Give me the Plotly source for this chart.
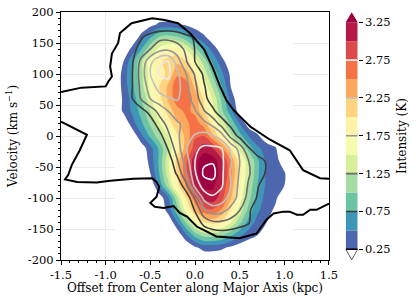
import plotly.graph_objects as go

# ---------------- data ----------------
offset_kpc = [-0.9, -0.8, -0.7, -0.6, -0.5, -0.4, -0.3, -0.2, -0.1, 0.0,
              0.1, 0.2, 0.3, 0.4, 0.5, 0.6, 0.7, 0.8, 0.9, 1.0, 1.1]
velocity_kms = [200, 180, 160, 140, 120, 100, 80, 60, 40, 20, 0,
                -20, -40, -60, -80, -100, -120, -140, -160, -180, -200]

# filled-contour intensity (K), rows follow velocity_kms, columns follow offset_kpc
intensity_fill = [
    [0, 0, 0, 0, 0, 0, 0, 0, 0, 0, 0, 0, 0, 0, 0, 0, 0, 0, 0, 0, 0],
    [0, 0, 0, 0, 0.15, 0.3, 0.33, 0.3, 0.2, 0.1, 0, 0, 0, 0, 0, 0, 0, 0, 0, 0, 0],
    [0, 0, 0, 0.35, 0.7, 1.0, 1.1, 1.0, 0.8, 0.5, 0.3, 0.05, 0, 0, 0, 0, 0, 0, 0, 0, 0],
    [0, 0, 0.35, 0.75, 1.2, 1.6, 1.8, 1.8, 1.5, 1.1, 0.7, 0.4, 0.1, 0, 0, 0, 0, 0, 0, 0, 0],
    [0, 0.25, 0.7, 1.2, 1.65, 1.95, 2.1, 2.2, 2.0, 1.6, 1.15, 0.7, 0.35, 0.05, 0, 0, 0, 0, 0, 0, 0],
    [0, 0.35, 0.75, 1.2, 1.6, 1.9, 2.05, 2.45, 2.4, 1.95, 1.4, 0.95, 0.55, 0.2, 0, 0, 0, 0, 0, 0, 0],
    [0, 0.35, 0.7, 1.15, 1.6, 2.0, 2.3, 2.7, 2.6, 2.2, 1.7, 1.2, 0.75, 0.25, 0, 0, 0, 0, 0, 0, 0],
    [0, 0.3, 0.6, 1.0, 1.45, 1.9, 2.3, 2.65, 2.7, 2.4, 1.95, 1.45, 0.95, 0.4, 0.05, 0, 0, 0, 0, 0, 0],
    [0, 0.3, 0.55, 0.85, 1.25, 1.7, 2.1, 2.4, 2.55, 2.45, 2.05, 1.55, 1.05, 0.6, 0.1, 0, 0, 0, 0, 0, 0],
    [0, 0, 0.4, 0.7, 1.05, 1.45, 1.85, 2.2, 2.45, 2.6, 2.4, 1.9, 1.4, 0.95, 0.5, 0.1, 0, 0, 0, 0, 0],
    [0, 0, 0.05, 0.45, 0.8, 1.15, 1.5, 1.95, 2.35, 2.7, 2.75, 2.3, 1.8, 1.3, 0.85, 0.5, 0.3, 0.05, 0, 0, 0],
    [0, 0, 0, 0.1, 0.4, 0.8, 1.3, 1.85, 2.4, 2.9, 3.15, 3.0, 2.6, 2.0, 1.4, 0.9, 0.55, 0.4, 0.28, 0, 0],
    [0, 0, 0, 0, 0.35, 0.8, 1.45, 2.1, 2.7, 3.15, 3.4, 3.4, 3.05, 2.5, 1.85, 1.3, 0.8, 0.45, 0.35, 0.1, 0],
    [0, 0, 0, 0, 0.25, 0.75, 1.4, 2.05, 2.7, 3.15, 3.45, 3.45, 3.1, 2.55, 1.9, 1.3, 0.8, 0.45, 0.35, 0.28, 0],
    [0, 0, 0, 0, 0, 0.55, 1.15, 1.85, 2.5, 3.05, 3.3, 3.3, 3.0, 2.45, 1.8, 1.2, 0.75, 0.45, 0.35, 0.25, 0],
    [0, 0, 0, 0, 0, 0.1, 0.45, 1.2, 2.0, 2.7, 3.1, 3.15, 2.85, 2.3, 1.65, 1.1, 0.65, 0.4, 0.3, 0.05, 0],
    [0, 0, 0, 0, 0, 0, 0.35, 0.9, 1.6, 2.25, 2.65, 2.7, 2.45, 1.95, 1.4, 0.9, 0.55, 0.35, 0.2, 0, 0],
    [0, 0, 0, 0, 0, 0, 0, 0.45, 1.0, 1.6, 1.95, 2.05, 1.9, 1.5, 1.05, 0.65, 0.4, 0.25, 0, 0, 0],
    [0, 0, 0, 0, 0, 0, 0, 0.05, 0.45, 0.85, 1.1, 1.1, 1.0, 0.8, 0.55, 0.38, 0.25, 0, 0, 0, 0],
    [0, 0, 0, 0, 0, 0, 0, 0, 0, 0.2, 0.35, 0.35, 0.3, 0.2, 0.1, 0, 0, 0, 0, 0, 0],
    [0, 0, 0, 0, 0, 0, 0, 0, 0, 0, 0, 0, 0, 0, 0, 0, 0, 0, 0, 0, 0],
]

# line-contour intensity (K), same grid
intensity_lines = [
    [0, 0, 0, 0, 0, 0, 0, 0, 0, 0, 0, 0, 0, 0, 0, 0, 0, 0, 0, 0, 0],
    [0, 0, 0, 0, 0.2, 0.3, 0.35, 0.35, 0.25, 0.05, 0, 0, 0, 0, 0, 0, 0, 0, 0, 0, 0],
    [0, 0, 0.3, 0.7, 0.95, 1.1, 1.1, 1.0, 0.85, 0.7, 0.4, 0.1, 0, 0, 0, 0, 0, 0, 0, 0, 0],
    [0, 0.2, 0.6, 0.95, 1.25, 1.55, 1.65, 1.5, 1.15, 0.73, 0.4, 0.15, 0, 0, 0, 0, 0, 0, 0, 0, 0],
    [0, 0.3, 0.7, 1.4, 2.1, 2.7, 2.78, 2.0, 1.3, 0.75, 0.35, 0.1, 0, 0, 0, 0, 0, 0, 0, 0, 0],
    [0, 0.3, 0.75, 1.5, 2.25, 2.8, 2.85, 2.35, 1.75, 1.2, 0.65, 0.3, 0, 0, 0, 0, 0, 0, 0, 0, 0],
    [0, 0.3, 0.75, 1.4, 2.0, 2.45, 2.6, 2.45, 1.9, 1.35, 0.8, 0.4, 0.1, 0, 0, 0, 0, 0, 0, 0, 0],
    [0, 0.25, 0.75, 1.3, 1.75, 2.05, 2.2, 2.3, 2.0, 1.5, 0.9, 0.5, 0.2, 0, 0, 0, 0, 0, 0, 0, 0],
    [0, 0, 0.2, 0.55, 0.95, 1.4, 1.75, 1.95, 2.0, 1.8, 1.3, 0.85, 0.45, 0.15, 0, 0, 0, 0, 0, 0, 0],
    [0, 0, 0, 0, 0.45, 1.0, 1.4, 1.7, 1.85, 1.95, 1.9, 1.6, 1.0, 0.6, 0.3, 0.1, 0, 0, 0, 0, 0],
    [0, 0, 0, 0, 0, 0.55, 1.15, 1.65, 2.05, 2.3, 2.4, 2.3, 1.95, 1.1, 0.6, 0.3, 0.1, 0, 0, 0, 0],
    [0, 0, 0, 0, 0, 0, 0.8, 1.5, 2.2, 2.65, 2.85, 2.85, 2.75, 2.15, 1.55, 0.8, 0.45, 0.15, 0, 0, 0],
    [0, 0, 0, 0, 0, 0, 0.4, 1.2, 2.0, 2.75, 3.15, 3.2, 2.85, 2.3, 1.75, 1.25, 0.95, 0.7, 0.3, 0, 0],
    [0, 0, 0, 0, 0, 0, 0.2, 0.85, 1.7, 2.7, 3.35, 3.4, 2.85, 2.2, 1.7, 1.3, 1.0, 0.7, 0.3, 0, 0],
    [0, 0, 0, 0, 0, 0, 0, 0.3, 1.1, 2.4, 3.0, 3.1, 2.8, 2.25, 1.6, 1.2, 0.8, 0.45, 0.15, 0, 0],
    [0, 0, 0, 0, 0, 0, 0, 0, 0.35, 1.3, 2.4, 2.65, 2.5, 2.05, 1.55, 1.1, 0.7, 0.35, 0, 0, 0],
    [0, 0, 0, 0, 0, 0, 0, 0, 0, 0.8, 1.6, 2.0, 1.9, 1.6, 1.25, 0.85, 0.4, 0, 0, 0, 0],
    [0, 0, 0, 0, 0, 0, 0, 0, 0, 0.3, 0.95, 1.15, 1.15, 1.05, 0.95, 0.8, 0.3, 0, 0, 0, 0],
    [0, 0, 0, 0, 0, 0, 0, 0, 0, 0, 0.2, 0.4, 0.5, 0.5, 0.4, 0.2, 0, 0, 0, 0, 0],
    [0, 0, 0, 0, 0, 0, 0, 0, 0, 0, 0, 0, 0, 0, 0, 0, 0, 0, 0, 0, 0],
    [0, 0, 0, 0, 0, 0, 0, 0, 0, 0, 0, 0, 0, 0, 0, 0, 0, 0, 0, 0, 0],
]

# lowest-level (0.25 K) contour of the wide-field map, two branches
black_upper_x = [-1.5, -1.27, -1.0, -0.97, -0.93, -0.95, -0.93, -0.86, -0.84, -0.71, -0.48,
                 -0.34, -0.19, -0.05, 0.1, 0.2, 0.28, 0.35, 0.43, 0.62, 0.84, 1.06, 1.21, 1.4, 1.5]
black_upper_y = [71, 78, 80, 88, 96, 112, 133, 150, 166, 182, 190,
                 187, 182, 165, 140, 110, 80, 58, 42, 15, -6, -23, -55, -68, -69]
black_lower_x = [-1.5, -1.21, -1.29, -1.38, -1.42, -1.455, -1.32, -1.1, -0.95, -0.69, -0.48,
                 -0.43, -0.4, -0.43, -0.5, -0.45, -0.35, -0.24, -0.17, -0.09, 0.02, 0.17,
                 0.24, 0.5, 0.69, 0.8, 0.88, 0.99, 1.06, 1.14, 1.21, 1.29, 1.36, 1.5]
black_lower_y = [23, 2, -23, -47, -63, -70, -74, -75, -72, -69, -68,
                 -74, -82, -98, -108, -114, -116, -113, -124, -130, -146, -157,
                 -162, -165, -157, -135, -125, -122, -122, -127, -127, -119, -119, -109]

fill_levels = [0.25, 0.5, 0.75, 1.0, 1.25, 1.5, 1.75, 2.0, 2.25, 2.5, 2.75, 3.0, 3.25]
line_levels = [0.75, 1.25, 1.75, 2.25, 2.75, 3.25]
cbar_ticks = [0.25, 0.75, 1.25, 1.75, 2.25, 2.75, 3.25]
x_ticks = [-1.5, -1.0, -0.5, 0.0, 0.5, 1.0, 1.5]
x_ticktext = ["-1.5", "-1.0", "-0.5", "0.0", "0.5", "1.0", "1.5"]
y_ticks = [-200, -150, -100, -50, 0, 50, 100, 150, 200]
y_ticktext = ["-200", "-150", "-100", "-50", "0", "50", "100", "150", "200"]

# ---------------- style ----------------
band_colors = ["#4c67ad", "#3f97b7", "#6cc4a5", "#a5dba4", "#d7ef9b", "#f5fbaf",
               "#fff2a9", "#fed481", "#fca95e", "#f57246", "#dd4a4c", "#b51a47"]
under_color = "#ffffff"
over_color = "#9e0142"
line_colors = ["#3c3c3c", "#6a6a6a", "#959595", "#c0c0c0", "#eaeaea", "#ffffff"]

n_pos = len(band_colors) + 1
fill_scale = [[0.0, under_color]]
for k, c in enumerate(band_colors):
    fill_scale.append([(k + 1) / n_pos, c])
fill_scale.append([1.0, over_color])

line_scale = [[i / (len(line_colors) - 1), c] for i, c in enumerate(line_colors)]

FONT = "DejaVu Serif"
step_fill = fill_levels[1] - fill_levels[0]
step_line = line_levels[1] - line_levels[0]

fig = go.Figure()

fig.add_trace(go.Contour(
    x=offset_kpc, y=velocity_kms, z=intensity_fill,
    autocontour=False,
    contours=dict(start=fill_levels[0], end=fill_levels[-1], size=step_fill, coloring="fill"),
    colorscale=fill_scale, showscale=False,
    line=dict(width=0, smoothing=0.9), hoverinfo="skip",
))

fig.add_trace(go.Contour(
    x=offset_kpc, y=velocity_kms, z=intensity_lines,
    autocontour=False,
    contours=dict(start=line_levels[0], end=line_levels[-1], size=step_line, coloring="lines"),
    colorscale=line_scale, showscale=False,
    line=dict(width=1.6, smoothing=0.9), hoverinfo="skip",
))

for bx, by in [(black_upper_x, black_upper_y), (black_lower_x, black_lower_y)]:
    fig.add_trace(go.Scatter(x=bx, y=by, mode="lines",
                             line=dict(color="black", width=2),
                             hoverinfo="skip", showlegend=False))

# ---------------- colour bar (drawn on its own small axes) ----------------
band_heights = [fill_levels[i + 1] - fill_levels[i] for i in range(len(fill_levels) - 1)]
fig.add_trace(go.Bar(
    x=[0] * len(band_heights), y=band_heights, base=fill_levels[:-1],
    width=[1] * len(band_heights),
    marker=dict(color=band_colors, line=dict(width=0)),
    xaxis="x2", yaxis="y2", showlegend=False, hoverinfo="skip",
))
top = fill_levels[-1]
bot = fill_levels[0]
fig.add_trace(go.Scatter(x=[-0.5, 0.5, 0, -0.5], y=[top, top, 3.383, top], fill="toself",
                         fillcolor=over_color, mode="lines", line=dict(width=0, color=over_color),
                         xaxis="x2", yaxis="y2", showlegend=False, hoverinfo="skip"))
fig.add_trace(go.Scatter(x=[-0.5, 0.5, 0, -0.5], y=[bot, bot, 0.112, bot], fill="toself",
                         fillcolor=under_color, mode="lines", line=dict(width=0.8, color="#333333"),
                         xaxis="x2", yaxis="y2", showlegend=False, hoverinfo="skip"))
cb_line_levels = [0.25] + line_levels[:-1]
cb_line_colors = ["#000000"] + line_colors[:-1]
for lv, col in zip(cb_line_levels, cb_line_colors):
    fig.add_trace(go.Scatter(x=[-0.5, 0.5], y=[lv, lv], mode="lines",
                             line=dict(color=col, width=1.6),
                             xaxis="x2", yaxis="y2", showlegend=False, hoverinfo="skip"))

axis_font = dict(family=FONT, size=12, color="black")
tick_font = dict(family=FONT, size=11.5, color="black")

fig.update_layout(
    width=416, height=303,
    margin=dict(l=61, r=56, t=12, b=43),
    paper_bgcolor="white", plot_bgcolor="white",
    showlegend=False,
    barmode="overlay",
    xaxis=dict(domain=[0, 0.8963], range=[-1.5, 1.5], tickvals=x_ticks, ticktext=x_ticktext,
               ticks="outside", ticklen=4, tickcolor="black", tickfont=tick_font,
               minor=dict(ticks="outside", ticklen=2, dtick=0.1, tick0=-1.5, tickcolor="black", showgrid=False),
               showline=True, linecolor="black", linewidth=1, mirror=True,
               showgrid=True, gridcolor="#ebebeb", gridwidth=1, zeroline=False,
               ticklabeloverflow="allow", automargin=False),
    yaxis=dict(range=[-200, 200], tickvals=y_ticks, ticktext=y_ticktext,
               ticks="outside", ticklen=4, tickcolor="black", tickfont=tick_font,
               minor=dict(ticks="outside", ticklen=2, dtick=10, tick0=-200, tickcolor="black", showgrid=False),
               showline=True, linecolor="black", linewidth=1, mirror=True,
               showgrid=True, gridcolor="#ebebeb", gridwidth=1, zeroline=False,
               ticklabeloverflow="allow", automargin=False),
    xaxis2=dict(domain=[0.9522, 0.9923], range=[-0.5, 0.5], anchor="y2", visible=False,
                fixedrange=True),
    yaxis2=dict(domain=[0, 1], range=[0.1085, 3.386], anchor="x2", side="right",
                tickvals=cbar_ticks, ticktext=[f"{t:.2f}" for t in cbar_ticks],
                ticks="outside", ticklen=4, tickcolor="black", tickfont=tick_font,
                showline=False, showgrid=False, zeroline=False,
                ticklabeloverflow="allow", automargin=False),
    annotations=[
        dict(text="Offset from Center along Major Axis (kpc)", xref="paper", yref="paper",
             x=0.448, y=-0.113, xanchor="center", yanchor="middle", showarrow=False, font=axis_font),
        dict(text="Velocity (km s<sup>−1</sup>)", xref="paper", yref="paper",
             x=-0.164, y=0.5, xanchor="center", yanchor="middle", textangle=-90,
             showarrow=False, font=axis_font),
        dict(text="Intensity (K)", xref="paper", yref="paper",
             x=1.1405, y=0.5, xanchor="center", yanchor="middle", textangle=-90,
             showarrow=False, font=axis_font),
    ],
)

# the default page body margin would shift the figure by 8 px; remove it
fig.write_html("out.html", config={"displayModeBar": False},
               post_script="document.body.style.margin='0px';")
